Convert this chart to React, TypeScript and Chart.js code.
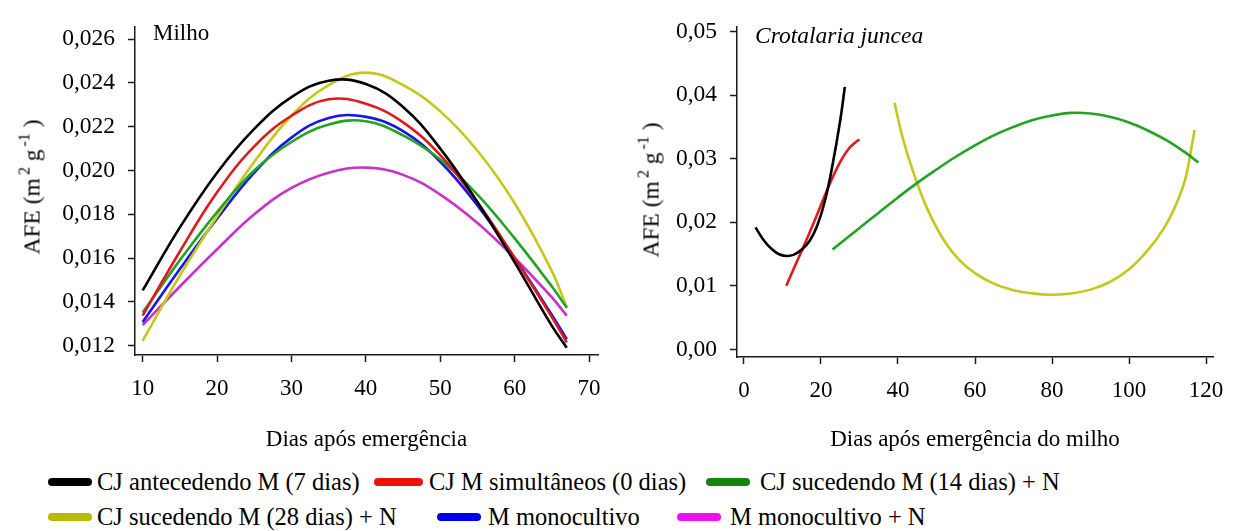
import React, { useEffect, useRef } from "react";
import { Chart, registerables } from "chart.js";

Chart.register(...registerables);

const SERIF = '"Liberation Serif", "Times New Roman", Times, serif';

// ---------- Series (shared legend) ----------
const seriesNames = [
  "CJ antecedendo M (7 dias)",
  "CJ M simultâneos (0 dias)",
  "CJ sucedendo M (14 dias) + N",
  "CJ sucedendo M (28 dias) + N",
  "M monocultivo",
  "M monocultivo + N",
];
const lineColors = ["#000000", "#e0191c", "#22a322", "#c6c61c", "#1616ea", "#c832c8"];
const legendColors = ["#000000", "#ee1111", "#138413", "#baba00", "#0000f0", "#f010f0"];

// ---------- Panel 1: Milho ----------
const milhoDays = [10, 15, 20, 25, 30, 35, 40, 45, 50, 55, 60, 65, 67];
const milhoCJAntecedendo7 = [0.01452, 0.0174, 0.0199, 0.0219, 0.02335, 0.0241, 0.02395, 0.0229, 0.021, 0.01855, 0.0158, 0.0129, 0.0119];
const milhoCJSimultaneos0 = [0.01337, 0.0163, 0.019, 0.0211, 0.0225, 0.02325, 0.02305, 0.0222, 0.0207, 0.01855, 0.016, 0.0133, 0.01214];
const milhoCJSucedendo14N = [0.01351, 0.0159, 0.0181, 0.02, 0.0213, 0.0221, 0.02225, 0.0216, 0.0205, 0.0189, 0.0169, 0.0147, 0.01373];
const milhoCJSucedendo28N = [0.01222, 0.0152, 0.0179, 0.0204, 0.0225, 0.0239, 0.02447, 0.0239, 0.0227, 0.0209, 0.0185, 0.0154, 0.01373];
const milhoMonocultivo = [0.01308, 0.0155, 0.0178, 0.0199, 0.0215, 0.0224, 0.02245, 0.0218, 0.0204, 0.0184, 0.016, 0.0134, 0.01229];
const milhoMonocultivoN = [0.01294, 0.0147, 0.0164, 0.018, 0.0192, 0.0199, 0.02013, 0.0198, 0.0189, 0.0176, 0.016, 0.0142, 0.01337];
const milhoXTicks = [10, 20, 30, 40, 50, 60, 70];
const milhoYTicks = [0.012, 0.014, 0.016, 0.018, 0.02, 0.022, 0.024, 0.026];

// ---------- Panel 2: Crotalaria juncea ----------
const crotAntecedendoX = [3, 5, 7, 9, 11, 13, 15, 17, 19, 21, 23, 25, 26.2];
const crotAntecedendoY = [0.0192, 0.0173, 0.0159, 0.015, 0.0147, 0.0149, 0.0157, 0.017, 0.0194, 0.0233, 0.029, 0.036, 0.0413];
const crotSimultaneosX = [11, 13, 15, 17, 19, 21, 23, 25, 27, 29, 30];
const crotSimultaneosY = [0.01, 0.0128, 0.0155, 0.0183, 0.0212, 0.0242, 0.027, 0.0295, 0.0314, 0.0326, 0.033];
const crotSucedendo14X = [23, 30, 35, 40, 45, 50, 55, 60, 65, 70, 75, 80, 85, 90, 95, 100, 105, 110, 115, 118];
const crotSucedendo14Y = [0.0157, 0.0191, 0.0215, 0.0239, 0.0262, 0.0283, 0.0303, 0.0321, 0.0337, 0.035, 0.0361, 0.0368, 0.0372, 0.0371, 0.0366, 0.0357, 0.0344, 0.0328, 0.0308, 0.0294];
const crotSucedendo28X = [39.1, 41, 43, 45, 48, 52, 56, 60, 65, 70, 75, 79, 85, 90, 95, 100, 105, 109, 112, 114, 115, 116, 117];
const crotSucedendo28Y = [0.0388, 0.0338, 0.0297, 0.0261, 0.0216, 0.0171, 0.014, 0.012, 0.0103, 0.0093, 0.0088, 0.0086, 0.0088, 0.0094, 0.0106, 0.0126, 0.0157, 0.019, 0.0225, 0.0256, 0.0278, 0.031, 0.0345];
const crotXTicks = [0, 20, 40, 60, 80, 100, 120];
const crotYTicks = [0, 0.01, 0.02, 0.03, 0.04, 0.05];

const milhoSeries = [
  milhoCJAntecedendo7,
  milhoCJSimultaneos0,
  milhoCJSucedendo14N,
  milhoCJSucedendo28N,
  milhoMonocultivo,
  milhoMonocultivoN,
];
const crotSeries = [
  { idx: 0, xs: crotAntecedendoX, ys: crotAntecedendoY },
  { idx: 1, xs: crotSimultaneosX, ys: crotSimultaneosY },
  { idx: 2, xs: crotSucedendo14X, ys: crotSucedendo14Y },
  { idx: 3, xs: crotSucedendo28X, ys: crotSucedendo28Y },
];

const AXIS = "#1a1a1a";

function makeScales(o: any) {
  return {
    x: {
      type: "linear",
      position: "bottom",
      min: o.xMin,
      max: o.xMax,
      afterBuildTicks: (s: any) => {
        s.ticks = o.xTicks.map((v: number) => ({ value: v }));
      },
      afterFit: (s: any) => {
        s.height = o.xHeight;
      },
      border: { display: true, color: AXIS, width: 1.5 },
      grid: {
        display: true,
        drawOnChartArea: false,
        drawTicks: true,
        tickLength: 7,
        color: AXIS,
        tickColor: AXIS,
        tickWidth: 1.5,
      },
      ticks: {
        color: "#000",
        font: { family: SERIF, size: 23 },
        padding: 13,
        maxRotation: 0,
        autoSkip: false,
        callback: (v: any) => String(v),
      },
      title: {
        display: true,
        text: o.xTitle,
        color: "#000",
        font: { family: SERIF, size: 23 },
        padding: { top: 0, bottom: 6 },
      },
    },
    y: {
      type: "linear",
      min: o.yMin,
      max: o.yMax,
      afterBuildTicks: (s: any) => {
        s.ticks = o.yTicks.map((v: number) => ({ value: v }));
      },
      afterFit: (s: any) => {
        s.width = o.yWidth;
      },
      border: { display: true, color: AXIS, width: 1.5 },
      grid: {
        display: true,
        drawOnChartArea: false,
        drawTicks: true,
        tickLength: 7,
        color: AXIS,
        tickColor: AXIS,
        tickWidth: 1.5,
      },
      ticks: {
        color: "#000",
        font: { family: SERIF, size: 23.5 },
        padding: 13,
        autoSkip: false,
        callback: (v: any) => Number(v).toFixed(o.yDec).replace(".", ","),
      },
    },
  };
}

function lineDataset(label: string, color: string, xs: number[], ys: number[]) {
  return {
    label,
    data: xs.map((x, i) => ({ x, y: ys[i] })),
    borderColor: color,
    backgroundColor: color,
    borderWidth: 2.6,
    pointRadius: 0,
    pointHoverRadius: 0,
    tension: 0.4,
    fill: false,
  };
}

function ChartCanvas(props: { config: any; width: number; height: number; style: any }) {
  const ref = useRef<HTMLCanvasElement | null>(null);
  useEffect(() => {
    if (!ref.current) return;
    const chart = new Chart(ref.current, props.config);
    return () => chart.destroy();
  }, []);
  return <canvas ref={ref} width={props.width} height={props.height} style={props.style} />;
}

const baseOptions = {
  responsive: false,
  maintainAspectRatio: false,
  animation: false,
  events: [],
  plugins: { legend: { display: false }, tooltip: { enabled: false }, title: { display: false } },
};

const milhoConfig = {
  type: "line",
  data: {
    datasets: milhoSeries.map((ys, i) => lineDataset(seriesNames[i], lineColors[i], milhoDays, ys)),
  },
  options: {
    ...baseOptions,
    layout: { padding: { left: 0, top: 8, right: 22, bottom: 0 } },
    scales: makeScales({
      xMin: 8.97,
      xMax: 71.2,
      yMin: 0.01157,
      yMax: 0.02655,
      xTicks: milhoXTicks,
      yTicks: milhoYTicks,
      yDec: 3,
      xTitle: "Dias após emergência",
      yWidth: 135,
      xHeight: 105,
    }),
  },
};

const crotConfig = {
  type: "line",
  data: {
    datasets: crotSeries.map((s) => lineDataset(seriesNames[s.idx], lineColors[s.idx], s.xs, s.ys)),
  },
  options: {
    ...baseOptions,
    layout: { padding: { left: 0, top: 10, right: 24, bottom: 0 } },
    scales: makeScales({
      xMin: -1.8,
      xMax: 121.8,
      yMin: -0.0012,
      yMax: 0.0507,
      xTicks: crotXTicks,
      yTicks: crotYTicks,
      yDec: 2,
      xTitle: "Dias após emergência do milho",
      yWidth: 117,
      xHeight: 103,
    }),
  },
};

// legend layout (positions only)
const legendLayout = [
  { lineX: 48, lineW: 44, textX: 97, y: 482 },
  { lineX: 374, lineW: 49, textX: 429, y: 482 },
  { lineX: 706, lineW: 44, textX: 760, y: 482 },
  { lineX: 48, lineW: 44, textX: 97, y: 517 },
  { lineX: 437, lineW: 44, textX: 488, y: 517 },
  { lineX: 677, lineW: 44, textX: 730, y: 517 },
];

function YTitle(props: { cx: number; cy: number }) {
  const sup = { fontSize: 16, position: "relative" as const, top: -10, marginLeft: 3 };
  return (
    <div
      style={{
        position: "absolute",
        left: props.cx,
        top: props.cy,
        transform: "translate(-50%, -50%) rotate(-90deg)",
        whiteSpace: "nowrap",
        fontFamily: SERIF,
        fontSize: 23.5,
        lineHeight: "26px",
        color: "#000",
      }}
    >
      AFE (m<span style={sup}>2</span> g<span style={sup}>-1</span> )
    </div>
  );
}

export default function App() {
  return (
    <div
      style={{
        position: "absolute",
        left: 0,
        top: 0,
        width: 1237,
        height: 531,
        background: "#fff",
        overflow: "hidden",
      }}
    >
      <ChartCanvas config={milhoConfig} width={620} height={460} style={{ position: "absolute", left: 0, top: 0 }} />
      <ChartCanvas config={crotConfig} width={617} height={460} style={{ position: "absolute", left: 620, top: 0 }} />
      <YTitle cx={33} cy={187} />
      <YTitle cx={652} cy={190} />
      <div style={{ position: "absolute", left: 153, top: 20, fontFamily: SERIF, fontSize: 23, lineHeight: "26px", color: "#000" }}>
        Milho
      </div>
      <div
        style={{
          position: "absolute",
          left: 755,
          top: 22,
          fontFamily: SERIF,
          fontSize: 23.5,
          fontStyle: "italic",
          lineHeight: "26px",
          color: "#000",
        }}
      >
        Crotalaria juncea
      </div>
      {legendLayout.map((p, i) => (
        <React.Fragment key={i}>
          <div
            style={{
              position: "absolute",
              left: p.lineX,
              top: p.y - 4,
              width: p.lineW,
              height: 8,
              borderRadius: 4,
              background: legendColors[i],
            }}
          />
          <div
            style={{
              position: "absolute",
              left: p.textX,
              top: p.y - 15,
              height: 30,
              lineHeight: "30px",
              fontFamily: SERIF,
              fontSize: 24.5,
              color: "#000",
              whiteSpace: "nowrap",
            }}
          >
            {seriesNames[i]}
          </div>
        </React.Fragment>
      ))}
    </div>
  );
}
